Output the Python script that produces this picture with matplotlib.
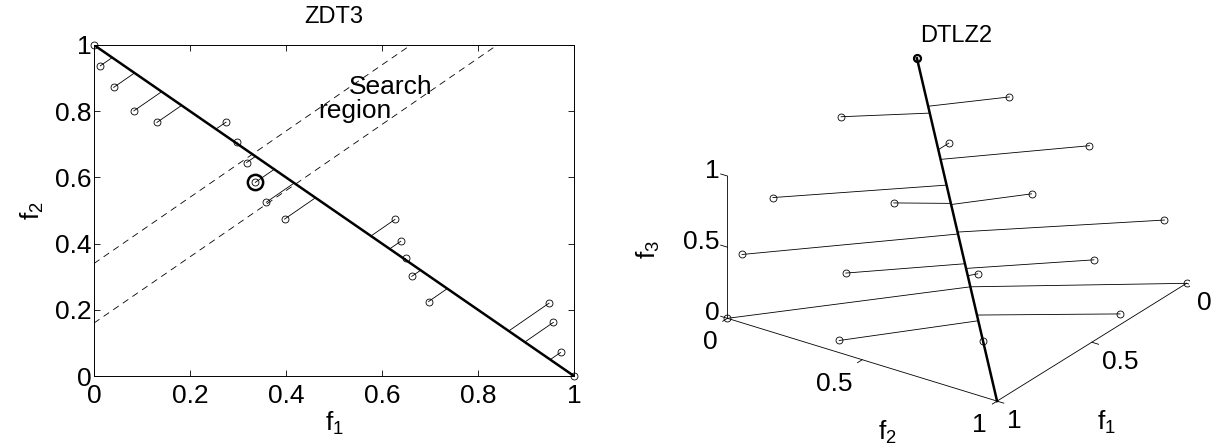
import numpy as np
import matplotlib
matplotlib.use("Agg")
import matplotlib.pyplot as plt
from mpl_toolkits.mplot3d import proj3d

plt.rcParams['font.family'] = ['Liberation Sans', 'DejaVu Sans']
plt.rcParams['mathtext.default'] = 'regular'

# ---- ZDT3 panel data (front is f1 + f2 = 1) ----
zdt_f1 = [0.0, 0.013, 0.041, 0.083, 0.131, 0.275, 0.298, 0.318, 0.336, 0.359,
          0.397, 0.627, 0.639, 0.649, 0.662, 0.697, 0.948, 0.957, 0.972, 1.0]
zdt_f2 = [1.0, 0.937, 0.872, 0.801, 0.766, 0.767, 0.706, 0.645, 0.585, 0.525,
          0.474, 0.473, 0.407, 0.355, 0.301, 0.225, 0.220, 0.162, 0.071, 0.0]
zdt_pick = 8                      # highlighted solution
search_intercepts = [0.34, 0.16]  # dashed lines f2 = f1 + b
ticks2d = [0, 0.2, 0.4, 0.6, 0.8, 1]
ticklabels2d = ['0', '0.2', '0.4', '0.6', '0.8', '1']

# ---- DTLZ2 panel data ----
dtlz_f1 = [0.0, 0.01, 0.40, 0.33, 0.006, 0.76, 0.62, 0.32, 0.0, 0.923,
           0.855, 0.317, 0.63, 0.0, 1.0, 0.29, 0.931, 0.685]
dtlz_f2 = [0.0, 0.35, 0.0, 0.35, 0.644, 0.0, 0.35, 0.65, 0.918, 0.0,
           0.337, 0.879, 0.668, 1.0, 0.0, 0.957, 0.366, 0.728]
dtlz_f3 = [1.0, 0.94, 0.92, 0.88, 0.765, 0.65, 0.70, 0.69, 0.397, 0.385,
           0.394, 0.357, 0.395, 0.0, 0.0, 0.0, 0.0, 0.0]
dtlz_pick = 0
ref_start = [1, 1, 0]
ref_end = [0, 0, 1]
ticks3d = [0, 0.5, 1]
ticklabels3d = ['0', '0.5', '1']

FS = 19
TFS = 17
W_PX, H_PX = 1223, 448

fig = plt.figure(figsize=(W_PX / 100, H_PX / 100), dpi=100)

# ================= left: ZDT3 =================
ax = fig.add_axes([94 / W_PX, 1 - 376 / H_PX, 480 / W_PX, 331 / H_PX])
ax.plot([0, 1], [1, 0], color='k', lw=1.8)

f1 = np.array(zdt_f1)
f2 = np.array(zdt_f2)
shift = (1 - f1 - f2) / 2
for x, y, s in zip(f1, f2, shift):
    ax.plot([x, x + s], [y, y + s], color='k', lw=0.6)

for b in search_intercepts:
    ax.axline((0, b), slope=1, color='k', lw=0.6, dashes=(8, 6))

ax.plot(f1, f2, 'o', ls='none', mfc='none', mec='k', ms=5, mew=0.6, clip_on=False)
ax.plot(f1[zdt_pick], f2[zdt_pick], 'o', mfc='none', mec='k', ms=11, mew=1.8)

ax.text(0.53, 0.874, 'Search', fontsize=FS, va='center')
ax.text(0.468, 0.80, 'region', fontsize=FS, va='center')

ax.set_xlim(0, 1)
ax.set_ylim(0, 1)
ax.set_xticks(ticks2d, ticklabels2d)
ax.set_yticks(ticks2d, ticklabels2d)
ax.tick_params(direction='in', top=True, right=True, length=4, width=0.6,
               labelsize=FS)
ax.tick_params(axis='x', pad=6)
ax.tick_params(axis='y', pad=2)
for sp in ax.spines.values():
    sp.set_linewidth(0.7)
ax.set_xlabel('$f_1$', fontsize=FS, labelpad=1)
ax.set_ylabel('$f_2$', fontsize=FS, labelpad=6)
ax.set_title('ZDT3', fontsize=TFS, pad=15.5)

# ================= right: DTLZ2 =================
ax3 = fig.add_axes([0.55, 0.05, 0.42, 0.9], projection='3d', proj_type='ortho')
ax3.view_init(elev=25.9, azim=35.1)
ax3.set_box_aspect((1, 1, 0.48))
ax3.set_xlim(0, 1)
ax3.set_ylim(0, 1)
ax3.set_zlim(0, 1)
ax3.set_xticks([])
ax3.set_yticks([])
ax3.set_zticks([])
ax3.set_axis_off()

lo, hi = ticks3d[0], ticks3d[-1]
# frame: f3 axis, f2 axis, f1 axis
ax3.plot([hi, hi], [lo, lo], [lo, hi], color='k', lw=0.6)
ax3.plot([hi, hi], [lo, hi], [lo, lo], color='k', lw=0.6)
ax3.plot([hi, lo], [hi, hi], [lo, lo], color='k', lw=0.6)
tl = 0.025
labels3d = []   # (x, y, z, text, ha, rotation), placed after the box is fitted
for t, lab in zip(ticks3d, ticklabels3d):
    ax3.plot([hi, hi], [lo, lo - tl], [t, t], color='k', lw=0.6)
    ax3.plot([hi, hi + tl], [t, t], [lo, lo], color='k', lw=0.6)
    ax3.plot([t, t], [hi, hi + tl], [lo, lo], color='k', lw=0.6)
    labels3d.append((hi, lo - 0.03, t + 0.017, lab, 'right', 0))
    labels3d.append((hi + 0.053, t, lo - 0.125, lab, 'right', 0))
    labels3d.append((t, hi + 0.037, lo - 0.12, lab, 'left', 0))
labels3d.append((hi, lo - 0.293, 0.31, '$f_3$', 'center', 90))
labels3d.append((1.15, 0.70, -0.27, '$f_2$', 'center', 0))
labels3d.append((0.705, 1.2, -0.274, '$f_1$', 'center', 0))

P = np.column_stack([dtlz_f1, dtlz_f2, dtlz_f3])
B = np.array(ref_start, float)
u = np.array(ref_end, float) - B
u = u / np.linalg.norm(u)
ax3.plot(*zip(ref_start, ref_end), color='k', lw=1.8)
for p in P:
    foot = B + np.dot(p - B, u) * u
    ax3.plot([p[0], foot[0]], [p[1], foot[1]], [p[2], foot[2]], color='k', lw=0.6)
ax3.plot(P[:, 0], P[:, 1], P[:, 2], 'o', ls='none', mfc='none', mec='k', ms=5, mew=0.6)
ax3.plot([P[dtlz_pick, 0]], [P[dtlz_pick, 1]], [P[dtlz_pick, 2]], 'o',
         mfc='none', mec='k', ms=5, mew=1.6)

fig.text(956 / W_PX, 1 - 36 / H_PX, 'DTLZ2', fontsize=TFS, ha='center', va='center')


def to_pixels(pts):
    pts = np.asarray(pts, float)
    xs, ys, _ = proj3d.proj_transform(pts[:, 0], pts[:, 1], pts[:, 2], ax3.M)
    return ax3.transData.transform(np.column_stack([xs, ys]))


# place the 3D box so its corners land where the reference frame is
fig.canvas.draw()
corners = [[1, 0, 0], [1, 1, 0], [0, 1, 0], [0, 0, 1]]
want = np.array([[727, 318], [997, 401], [1187, 283], [917, 59]], float)
want[:, 1] = H_PX - want[:, 1]
got = to_pixels(corners)
gc, wc = got.mean(0), want.mean(0)
k = ((got - gc) * (want - wc)).sum() / ((got - gc) ** 2).sum()
pos = ax3.get_position(original=True)
c = np.array([(pos.x0 + pos.x1) / 2 * W_PX, (pos.y0 + pos.y1) / 2 * H_PX])
m = wc + k * (c - gc)
w, h = pos.width * W_PX * k, pos.height * H_PX * k
ax3.set_position([(m[0] - w / 2) / W_PX, (m[1] - h / 2) / H_PX, w / W_PX, h / H_PX])

# tick and axis labels of the 3D panel as flat text at projected spots
fig.canvas.draw()
lab_px = to_pixels([l[:3] for l in labels3d])
for (x, y, z, s, ha, rot), (px, py) in zip(labels3d, lab_px):
    fig.text(px / W_PX, py / H_PX, s, fontsize=FS, ha=ha, va='center',
             rotation=rot)

fig.savefig('out.png', dpi=100)
